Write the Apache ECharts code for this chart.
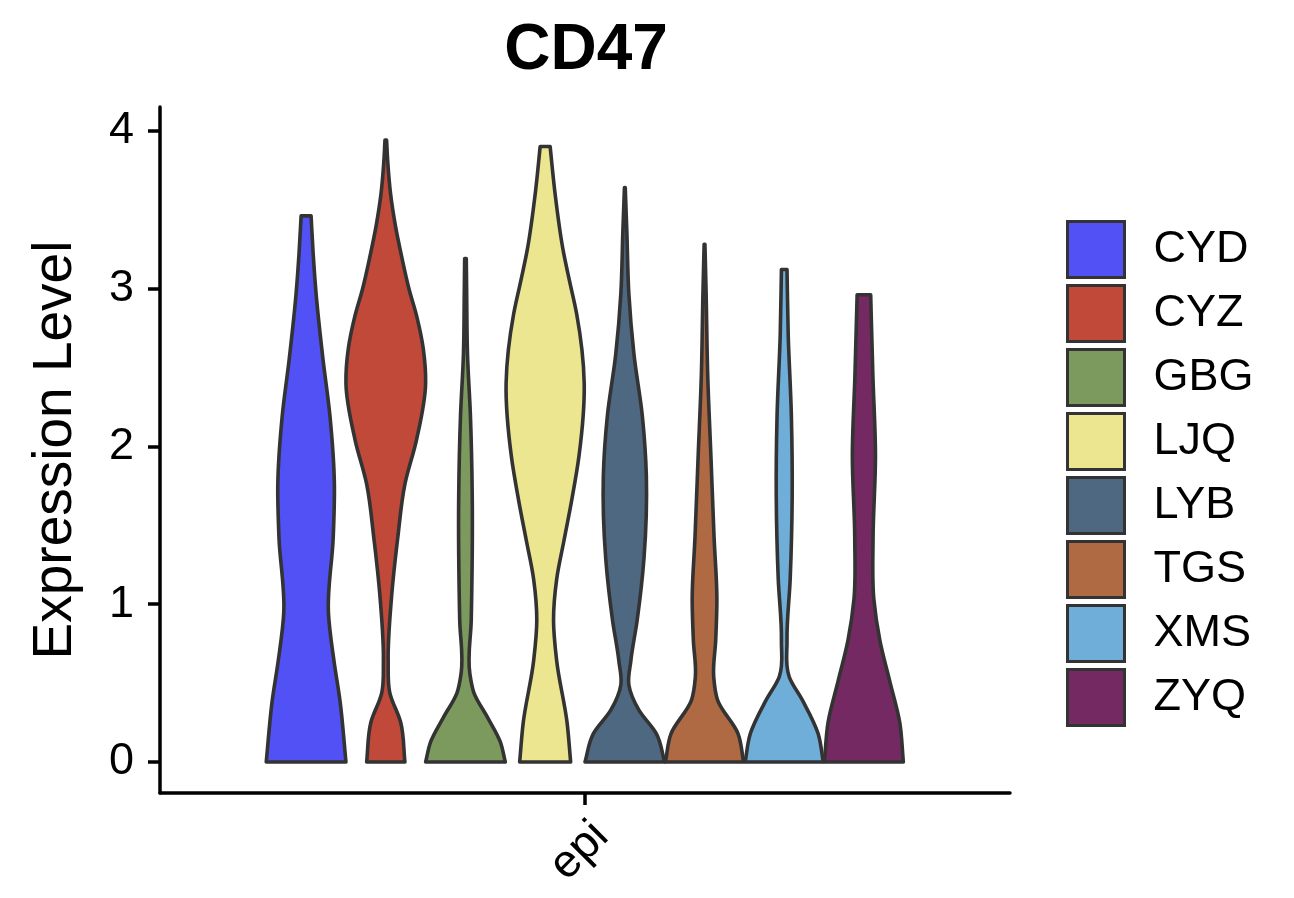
<!DOCTYPE html>
<html><head><meta charset="utf-8">
<script src="https://cdn.jsdelivr.net/npm/echarts@6/dist/echarts.min.js"></script>
<style>html,body{margin:0;padding:0;background:#fff}#c{width:1294px;height:898px}</style>
</head><body><div id="c"></div>
<script>
const categories = ['epi'];
const groups = ['CYD','CYZ','GBG','LJQ','LYB','TGS','XMS','ZYQ'];
const yTicks = [0, 1, 2, 3, 4];
// violin profiles: [expression level, relative width (1 = full dodge slot)]
const violinCYD = [[0,1.0],[0.39,0.85],[0.64,0.70],[0.95,0.56],[1.42,0.68],[1.76,0.71],[2.19,0.6],[2.56,0.42],[2.97,0.25],[3.23,0.175],[3.46,0.125]];
const violinCYZ = [[0,0.48],[0.25,0.375],[0.44,0.1],[0.64,0.06],[1.03,0.14],[1.42,0.3],[1.76,0.48],[2.04,0.77],[2.40,1.0],[2.62,0.94],[2.82,0.78],[3.0,0.58],[3.2,0.4],[3.4,0.24],[3.6,0.12],[3.8,0.05],[3.94,0.02]];
const violinGBG = [[0,1.0],[0.13,0.87],[0.28,0.56],[0.44,0.21],[0.56,0.11],[0.9,0.145],[1.68,0.17],[2.19,0.125],[2.59,0.05],[2.97,0.03],[3.19,0.02]];
const violinLJQ = [[0,0.64],[0.25,0.55],[0.64,0.29],[0.9,0.21],[1.16,0.29],[1.4,0.47],[1.65,0.66],[1.94,0.85],[2.40,0.98],[2.84,0.79],[3.05,0.61],[3.23,0.46],[3.62,0.24],[3.90,0.125]];
const violinLYB = [[0,1.0],[0.18,0.79],[0.33,0.35],[0.49,0.1],[0.64,0.15],[0.9,0.31],[1.29,0.48],[1.81,0.54],[2.19,0.44],[2.58,0.23],[2.97,0.1],[3.36,0.05],[3.64,0.01]];
const violinTGS = [[0,0.98],[0.18,0.84],[0.39,0.33],[0.54,0.23],[0.77,0.28],[1.03,0.31],[1.42,0.24],[1.94,0.16],[2.45,0.08],[2.97,0.04],[3.28,0.01]];
const violinXMS = [[0,0.98],[0.18,0.85],[0.39,0.46],[0.54,0.125],[0.77,0.07],[1.16,0.15],[1.68,0.2],[2.19,0.18],[2.71,0.1],[3.12,0.07]];
const violinZYQ = [[0,0.99],[0.25,0.9],[0.51,0.65],[0.77,0.4],[1.03,0.25],[1.42,0.23],[1.94,0.29],[2.45,0.225],[2.96,0.17]];
const profiles = [violinCYD, violinCYZ, violinGBG, violinLJQ, violinLYB, violinTGS, violinXMS, violinZYQ];

const palette = ['#5151F5','#C0493A','#7C9A5E','#ECE691','#4E6882','#AF6A43','#70AEDA','#752963'];
const FONT = 'Liberation Sans, Arial, Helvetica, sans-serif';

// smooth curve through points ordered along y (x as a function of y), cubic Hermite
function hermite(pts) {
  const n = pts.length;
  const m = new Array(n);
  for (let i = 0; i < n; i++) {
    if (i === 0) m[i] = (pts[1][0] - pts[0][0]) / (pts[1][1] - pts[0][1]);
    else if (i === n - 1) m[i] = (pts[n - 1][0] - pts[n - 2][0]) / (pts[n - 1][1] - pts[n - 2][1]);
    else {
      const h0 = pts[i][1] - pts[i - 1][1], h1 = pts[i + 1][1] - pts[i][1];
      const s0 = (pts[i][0] - pts[i - 1][0]) / h0, s1 = (pts[i + 1][0] - pts[i][0]) / h1;
      m[i] = (s0 * h1 + s1 * h0) / (h0 + h1);
    }
  }
  let d = '';
  for (let i = 0; i < n - 1; i++) {
    const h = pts[i + 1][1] - pts[i][1];
    d += ' C' + (pts[i][0] + m[i] * h / 3) + ',' + (pts[i][1] + h / 3) + ' ' +
         (pts[i + 1][0] - m[i + 1] * h / 3) + ',' + (pts[i + 1][1] - h / 3) + ' ' +
         pts[i + 1][0] + ',' + pts[i + 1][1];
  }
  return d;
}

function makeRender(gi) {
  return function (params, api) {
    const base = api.coord([0, 0]);
    const band = api.size([1, 0])[0];
    const slot = band * 0.75 / groups.length;
    const cx = base[0] + (gi - (groups.length - 1) / 2) * slot;
    const prof = profiles[gi];
    const left = prof.map(p => [cx - p[1] * slot / 2, api.coord([0, p[0]])[1]]);
    const right = prof.map(p => [cx + p[1] * slot / 2, api.coord([0, p[0]])[1]]).reverse();
    const d = 'M' + left[0][0] + ',' + left[0][1] + hermite(left) +
              ' L' + right[0][0] + ',' + right[0][1] + hermite(right) + ' Z';
    return {
      type: 'path',
      shape: { pathData: d },
      style: { fill: palette[gi], stroke: '#333333', lineWidth: 3.6, lineJoin: 'round' }
    };
  };
}

const chart = echarts.init(document.getElementById('c'), null, { renderer: 'canvas' });
chart.setOption({
  animation: false,
  color: palette,
  title: {
    text: 'CD47', left: 581, top: 14, textAlign: 'center',
    textStyle: { fontSize: 64, fontWeight: 'bold', fontFamily: FONT, color: '#000' }
  },
  legend: {
    data: groups, orient: 'vertical', left: 1061, top: 215,
    itemWidth: 57, itemHeight: 56, itemGap: 5, icon: 'rect',
    itemStyle: { borderColor: '#333333', borderWidth: 3 },
    textStyle: { fontSize: 45, lineHeight: 50, color: '#000', fontFamily: FONT, padding: [0, 0, 0, 24] }
  },
  grid: { left: 160, right: 284, top: 107, bottom: 105, containLabel: false },
  xAxis: {
    type: 'category', data: categories, boundaryGap: true,
    axisLine: { show: true, onZero: false, lineStyle: { color: '#000', width: 3.5 } },
    axisTick: { show: true, alignWithLabel: true, length: 12, lineStyle: { color: '#000', width: 3.5 } },
    axisLabel: { rotate: 45, fontSize: 46, color: '#000', fontFamily: FONT, margin: 20, verticalAlign: 'top' }
  },
  yAxis: {
    type: 'value', min: -0.1965, max: 4.15,
    name: 'Expression Level', nameLocation: 'middle', nameGap: 77,
    nameTextStyle: { fontSize: 55, color: '#000', fontFamily: FONT },
    splitLine: { show: false },
    axisLine: { show: true, lineStyle: { color: '#000', width: 3.5 } },
    axisTick: { show: true, length: 12, lineStyle: { color: '#000', width: 3.5 }, customValues: yTicks },
    axisLabel: { fontSize: 45, color: '#000', fontFamily: FONT, margin: 26, customValues: yTicks }
  },
  series: groups.map((g, gi) => ({
    name: g, type: 'custom', clip: false,
    itemStyle: { color: palette[gi] },
    encode: { x: 0, y: 1 },
    data: [[0, 0]],
    renderItem: makeRender(gi)
  }))
});
</script></body></html>
